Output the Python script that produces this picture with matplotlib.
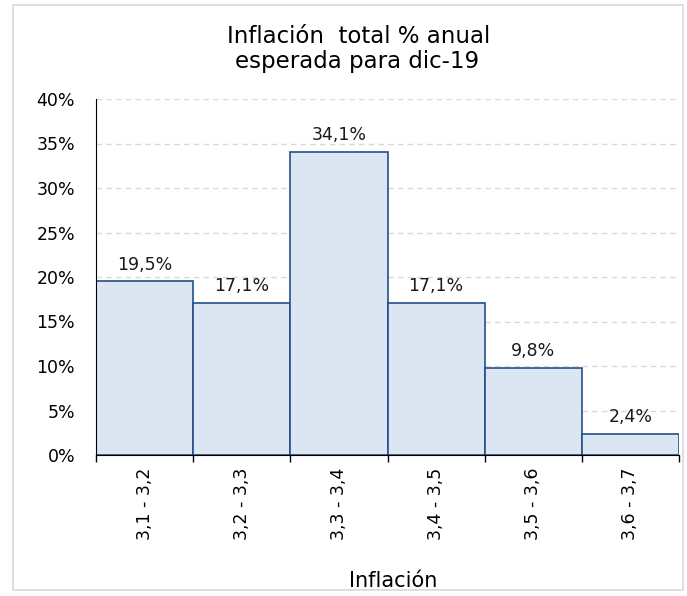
import matplotlib
matplotlib.use("Agg")
import matplotlib.pyplot as plt
from matplotlib.patches import Rectangle

categories = ["3,1 - 3,2", "3,2 - 3,3", "3,3 - 3,4", "3,4 - 3,5", "3,5 - 3,6", "3,6 - 3,7"]
values = [19.5, 17.1, 34.1, 17.1, 9.8, 2.4]
labels = ["19,5%", "17,1%", "34,1%", "17,1%", "9,8%", "2,4%"]
yticks = [0, 5, 10, 15, 20, 25, 30, 35, 40]

plt.rcParams['font.family'] = ['DejaVu Sans']

W, H = 687, 596
fig = plt.figure(figsize=(W/100, H/100), dpi=100)
fig.patches.append(Rectangle((13/W, 1-590/H), 670/W, 585/H, transform=fig.transFigure,
                             fill=False, edgecolor='#d9d9d9', linewidth=1.2))

ax = fig.add_axes([96/W, 1-455/H, (679-96)/W, (455-99)/H])
ax.set_axisbelow(True)
x = list(range(len(categories)))
ax.bar(x, values, width=1.0, align='edge', color='#dce6f2', edgecolor='#254f8a', linewidth=1.2, zorder=2)
for xi, v, lab in zip(x, values, labels):
    ax.annotate(lab, (xi + 0.5, v), xytext=(0, 8.6), textcoords='offset points',
                ha='center', va='baseline', fontsize=12.5, color='#1a1a1a', zorder=4)

ax.set_xlim(0, len(categories))
ax.set_ylim(0, 40)
ax.set_yticks(yticks)
ax.set_yticklabels([f"{t}%" for t in yticks], fontsize=12.5)
ax.tick_params(axis='y', length=0, pad=15)
ax.set_xticks([i for i in range(len(categories) + 1)])
ax.set_xticklabels([""] * (len(categories) + 1))
ax.tick_params(axis='x', length=5, direction='out', color='black', width=1)
for xi, c in zip(x, categories):
    ax.text(xi + 0.5, -0.035, c, transform=ax.get_xaxis_transform(), rotation=90,
            ha='center', va='top', fontsize=12.5)
ax.grid(axis='y', linestyle=(0, (4, 3)), color='#d9d9d9', linewidth=1)
for s in ['top', 'right']:
    ax.spines[s].set_visible(False)
ax.spines['left'].set_color('black')
ax.spines['bottom'].set_color('black')
ax.spines['left'].set_zorder(3)
ax.spines['bottom'].set_zorder(3)

fig.text(359/W, 1-43/H, "Inflación  total % anual", ha='center', va='baseline', fontsize=16.5)
fig.text(357/W, 1-68/H, "esperada para dic-19", ha='center', va='baseline', fontsize=16.5)
fig.text(393/W, 1-587/H, "Inflación", ha='center', va='baseline', fontsize=15)

fig.savefig("out.png", dpi=100)
